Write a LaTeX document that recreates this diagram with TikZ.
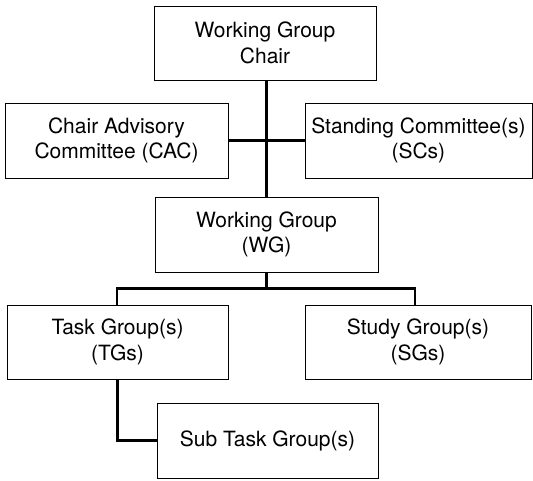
\documentclass[tikz,border=0pt]{standalone}
\usepackage{fontspec}
\setmainfont{TeX Gyre Heros}
\begin{document}
\begin{tikzpicture}[x=1pt,y=1pt,
  box/.style={draw, line width=0.8pt, inner sep=0pt, align=center,
    font=\fontsize{21}{25.5}\selectfont},
  conn/.style={line width=2.8pt}]
\useasboundingbox (0,0) rectangle (533,480);
\node[box, minimum width=222pt, minimum height=74pt] (chair) at (265,437) {Working Group\\Chair};
\node[box, minimum width=223pt, minimum height=75pt] (cac) at (116.5,339.5) {Chair Advisory\\Committee (CAC)};
\node[box, minimum width=227pt, minimum height=75pt, anchor=west] (sc) at (304.5,339.5) {Standing Committee(s)\\(SCs)};
\node[box, minimum width=223pt, minimum height=75pt] (wg) at (266.5,245.5) {Working Group\\(WG)};
\node[box, minimum width=221pt, minimum height=74pt] (tg) at (117.5,138) {Task Group(s)\\(TGs)};
\node[box, minimum width=226pt, minimum height=74pt] (sg) at (418,138) {Study Group(s)\\(SGs)};
\node[box, minimum width=221pt, minimum height=75pt] (sub) at (267.5,39.5) {Sub Task Group(s)};
\draw[conn] (chair.south -| wg.north) -- (wg.north);
\draw[conn] (cac.east) -- (sc.west);
\draw[conn] (wg.south) -- ++(0,-16) coordinate (j);
\coordinate (tgt) at ([xshift=-0.5pt]tg.north);
\coordinate (sgt) at ([xshift=-3pt]sg.north);
\draw[conn] (tgt) |- (j) -| (sgt);
\draw[conn] (tg.south) |- (sub.west);
\end{tikzpicture}
\end{document}
